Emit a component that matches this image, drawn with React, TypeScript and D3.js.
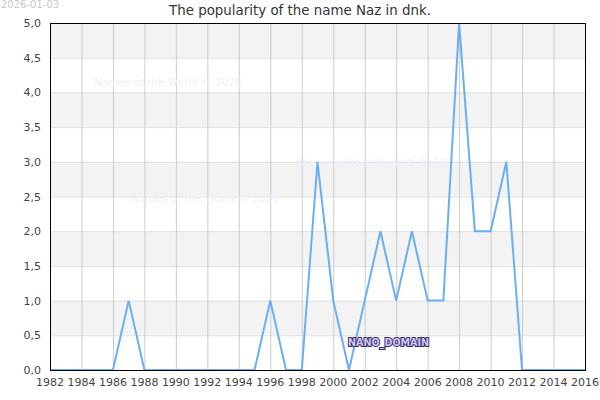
import React from "react";
import * as d3 from "d3";

const years = d3.range(1982, 2017);
const values = [
  0, 0, 0, 0, 0, 1, 0, 0, 0, 0, 0, 0, 0, 0, 1, 0, 0, 3, 1, 0, 1, 2, 1, 2, 1, 1, 5, 2, 2, 3, 0, 0, 0, 0, 0,
];
const xTicks = d3.range(1982, 2017, 2);
const yTicks = d3.range(0, 5.01, 0.5);
const bands = [0.5, 1.5, 2.5, 3.5, 4.5];
const watermarks = [
  { x: 94, y: 86 },
  { x: 298, y: 167 },
  { x: 131, y: 202 },
];

export default function App() {
  const W = 600, H = 400;
  const m = { l: 50, r: 585, t: 23, b: 370 };
  const x = d3.scaleLinear().domain([1982, 2016]).range([m.l, m.r]);
  const y = d3.scaleLinear().domain([0, 5]).range([m.b, m.t]);
  const line = d3.line<number>().x((_, i) => x(years[i])).y((d) => y(d));
  const font = "DejaVu Sans, sans-serif";
  return (
    <svg width={W} height={H} style={{ position: "absolute", left: 0, top: 0 }} fontFamily={font}>
      <rect x={0} y={0} width={W} height={H} fill="#fff" />
      {bands.map((b) => (
        <rect key={b} x={m.l} y={y(b + 0.5)} width={m.r - m.l} height={y(b) - y(b + 0.5)} fill="#f3f3f3" />
      ))}
      {yTicks.map((t) => (
        <line key={t} x1={m.l} x2={m.r} y1={y(t) + 0.5} y2={y(t) + 0.5} stroke="#e0e0e0" strokeWidth={1} />
      ))}
      {xTicks.map((t) => (
        <line key={t} x1={x(t) + 0.5} x2={x(t) + 0.5} y1={m.t} y2={m.b} stroke="#cccccc" strokeWidth={1} />
      ))}
      {watermarks.map((w, i) => (
        <text key={i} x={w.x} y={w.y} fontSize={10.5} fill="#eeeefc">
          Names of the World © 2026
        </text>
      ))}
      <path d={line(values) || ""} fill="none" stroke="#6caef5" strokeWidth={2} strokeLinejoin="miter" />
      <rect x={m.l + 0.5} y={m.t + 0.5} width={m.r - m.l} height={m.b - m.t} fill="none" stroke="#000" strokeWidth={1} />
      {yTicks.map((t) => (
        <text key={t} x={41} y={y(t) + 4} fontSize={11} fill="#444" textAnchor="end">
          {d3.format(".1f")(t).replace(".", ",")}
        </text>
      ))}
      {xTicks.map((t) => (
        <text key={t} x={x(t)} y={386} fontSize={11} fill="#444" textAnchor="middle">
          {t}
        </text>
      ))}
      <text x={300} y={15} fontSize={13.4} fill="#333" textAnchor="middle">
        The popularity of the name Naz in dnk.
      </text>
      <text x={1} y={8} fontSize={10} fill="#c8c8c8">2026-01-03</text>
      <text x={348} y={346} fontSize={9.6} fontWeight="bold" fill="#cfc8ee" stroke="#3a2a72" strokeWidth={2} paintOrder="stroke">
        NANO_DOMAIN
      </text>
    </svg>
  );
}
